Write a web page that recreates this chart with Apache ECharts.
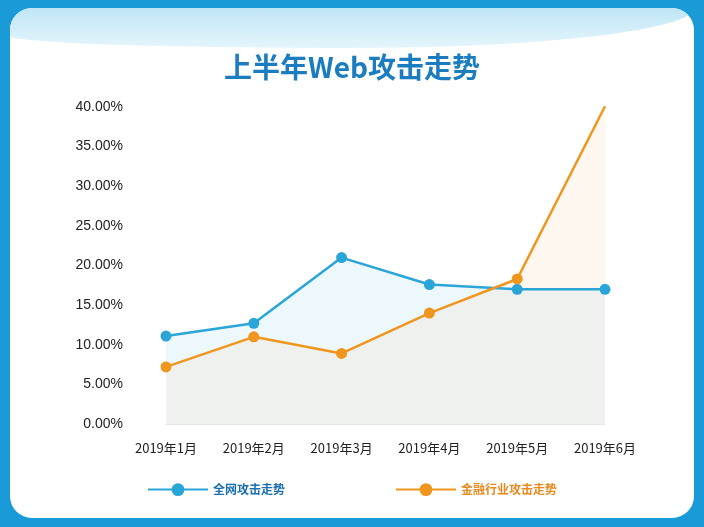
<!DOCTYPE html>
<html><head><meta charset="utf-8">
<script src="https://cdn.jsdelivr.net/npm/echarts@6/dist/echarts.min.js"></script>
<style>
html,body{margin:0;padding:0;width:704px;height:527px;overflow:hidden;background:#1b9ad8;}
#card{position:absolute;left:10px;top:8px;width:684px;height:510px;background:#fff;border-radius:22px;overflow:hidden;}
#wave{position:absolute;left:0;top:0;width:684px;height:40px;background:linear-gradient(180deg,#bfe6f6,#e4f5fc);border-radius:0 0 50% 50%/0 0 100% 30%;}
#c{position:absolute;left:0;top:0;width:704px;height:527px;}
</style></head><body>
<div id="card"><div id="wave"></div></div>
<div id="c"></div>
<script>
const categories=['2019年1月','2019年2月','2019年3月','2019年4月','2019年5月','2019年6月'];
const allWeb=[11.1,12.7,21.0,17.6,17.0,17.0];
const finance=[7.2,11.0,8.9,14.0,18.3,40.1];
const chart=echarts.init(document.getElementById('c'));
chart.setOption({
  title:{text:'上半年Web攻击走势',left:'center',top:48,textStyle:{color:'#1b7dc0',fontSize:28,fontWeight:'bold',fontFamily:'Noto Sans CJK SC'}},
  legend:{bottom:26,itemGap:110,itemWidth:60,itemHeight:16,
    data:[{name:'全网攻击走势',textStyle:{color:'#1b6fae'}},{name:'金融行业攻击走势',textStyle:{color:'#e88a20'}}],
    textStyle:{fontSize:12,fontWeight:'bold',fontFamily:'Noto Sans CJK SC'}},
  grid:{left:166,right:99,top:107,bottom:103},
  xAxis:{type:'category',data:categories,boundaryGap:false,
    axisLine:{lineStyle:{color:'#e6e6e6'}},axisTick:{show:false},
    axisLabel:{color:'#222',fontSize:13,margin:18,fontFamily:'Noto Sans CJK SC'}},
  yAxis:{type:'value',min:0,max:40,interval:5,splitLine:{show:false},
    axisLabel:{formatter:v=>v.toFixed(2)+'%',color:'#222',fontSize:14,margin:43,fontFamily:'Liberation Sans'}},
  series:[
    {name:'全网攻击走势',type:'line',data:allWeb,symbol:'circle',symbolSize:11,
     itemStyle:{color:'#2aa5d8'},lineStyle:{width:2.5,color:'#2aa5d8'},
     areaStyle:{color:'rgba(140,210,240,0.22)'}},
    {name:'金融行业攻击走势',type:'line',data:finance,symbol:'circle',symbolSize:11,
     itemStyle:{color:'#f0951e'},lineStyle:{width:2.5,color:'#f0951e'},
     areaStyle:{color:'rgba(240,200,150,0.2)'}}
  ]
});
</script></body></html>
